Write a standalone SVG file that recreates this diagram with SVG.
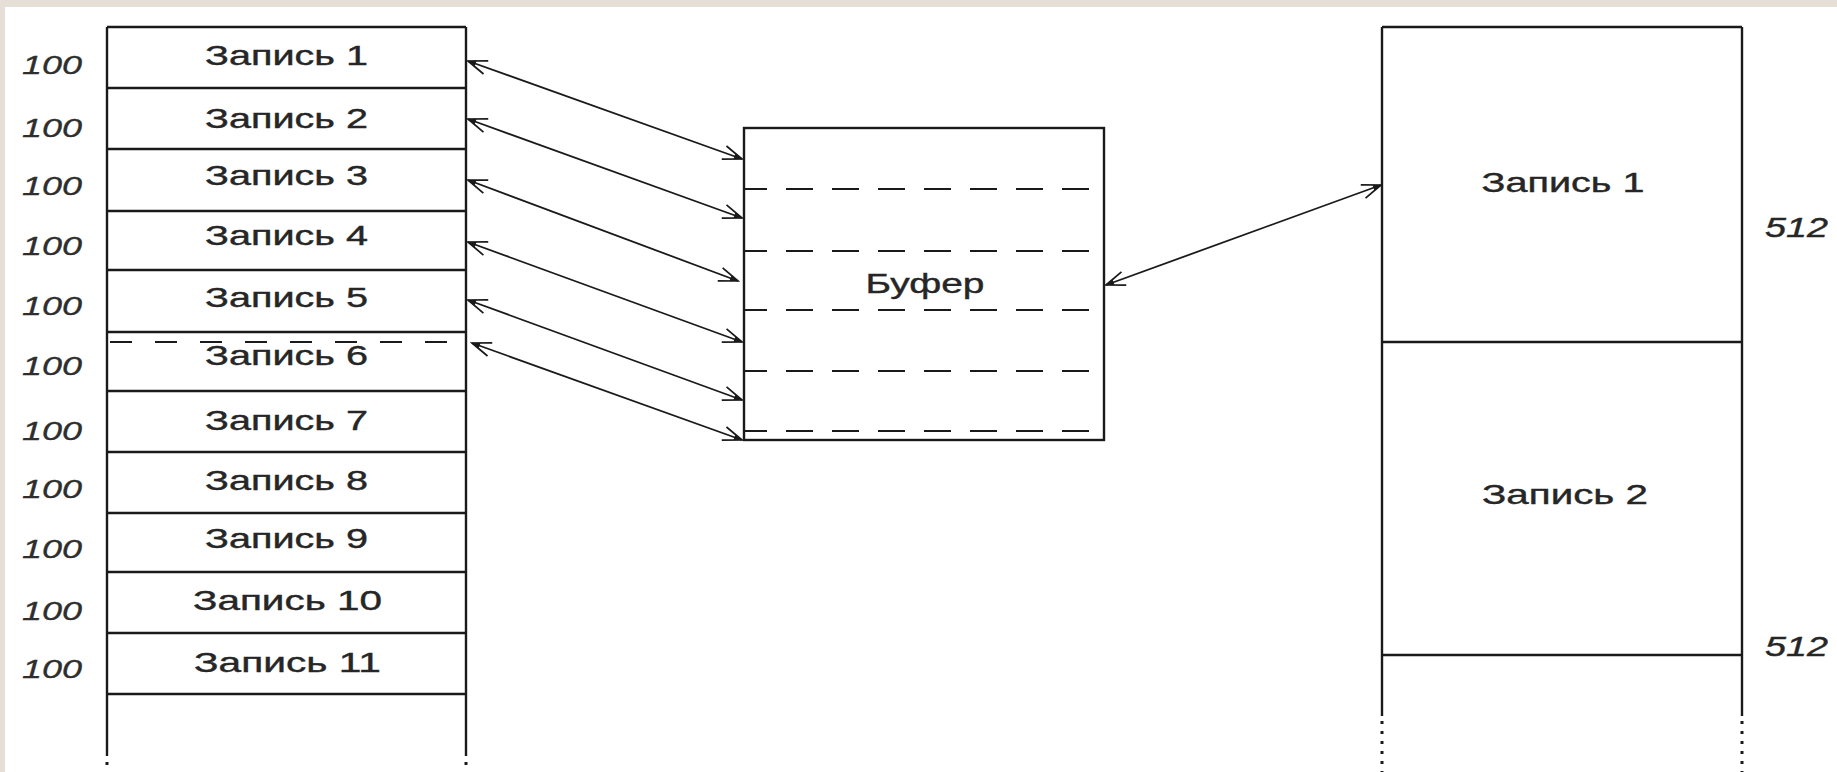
<svg xmlns="http://www.w3.org/2000/svg" width="1837" height="772" viewBox="0 0 1837 772">
  <style>
    .box { fill: none; stroke: #1a1a1a; stroke-width: 2.4; }
    .ln { stroke: #1a1a1a; stroke-width: 2.4; fill: none; }
    .dash { stroke: #1a1a1a; stroke-width: 2.2; fill: none; }
    .dot { stroke: #1a1a1a; stroke-width: 3; fill: none; stroke-dasharray: 3 7; }
    .arr { stroke: #1a1a1a; stroke-width: 1.8; fill: none; marker-start: url(#ah); marker-end: url(#ah); }
    .t { font-family: "Liberation Sans", Arial, sans-serif; font-size: 28px; fill: #262626; stroke: #262626; stroke-width: 0.4; text-anchor: middle; }
    .n { font-family: "Liberation Sans", Arial, sans-serif; font-size: 25px; font-style: italic; fill: #2e2e2e; stroke: #2e2e2e; stroke-width: 0.3; }
    .m { font-family: "Liberation Sans", Arial, sans-serif; font-size: 28px; font-style: italic; fill: #262626; stroke: #262626; stroke-width: 0.4; }
  </style>
  <defs>
    <marker id="ah" viewBox="-22 -10 24 20" refX="0" refY="0" markerWidth="24" markerHeight="20" markerUnits="userSpaceOnUse" orient="auto-start-reverse">
      <path d="M-19,-7 L0,0 L-19,7" fill="none" stroke="#1a1a1a" stroke-width="1.7"/>
      <path d="M-8,-3 L0,0 L-8,3 Z" fill="#1a1a1a"/>
    </marker>
  </defs>
  <rect x="0" y="0" width="1837" height="772" fill="#e6dfd8"/>
  <rect x="5" y="7" width="1832" height="765" fill="#ffffff"/>

  <g id="left-column">
    <path class="ln" d="M107,27 H466 M107,88 H466 M107,149 H466 M107,211 H466 M107,270 H466 M107,332 H466 M107,391 H466 M107,452 H466 M107,513 H466 M107,572 H466 M107,633 H466 M107,694 H466"/>
    <path class="ln" d="M107,27 V756 M466,27 V756"/>
    <path class="dot" d="M107,762 V772 M466,762 V772"/>
    <path class="dash" d="M110,342 H455" stroke-dasharray="22 23"/>
    <text class="t" x="286.5" y="65" textLength="163" lengthAdjust="spacingAndGlyphs">Запись 1</text>
    <text class="t" x="286.5" y="128" textLength="163" lengthAdjust="spacingAndGlyphs">Запись 2</text>
    <text class="t" x="286.5" y="185" textLength="163" lengthAdjust="spacingAndGlyphs">Запись 3</text>
    <text class="t" x="286.5" y="245" textLength="163" lengthAdjust="spacingAndGlyphs">Запись 4</text>
    <text class="t" x="286.5" y="307" textLength="163" lengthAdjust="spacingAndGlyphs">Запись 5</text>
    <text class="t" x="286.5" y="365" textLength="163" lengthAdjust="spacingAndGlyphs">Запись 6</text>
    <text class="t" x="286.5" y="430" textLength="163" lengthAdjust="spacingAndGlyphs">Запись 7</text>
    <text class="t" x="286.5" y="490" textLength="163" lengthAdjust="spacingAndGlyphs">Запись 8</text>
    <text class="t" x="286.5" y="548" textLength="163" lengthAdjust="spacingAndGlyphs">Запись 9</text>
    <text class="t" x="287.5" y="610" textLength="189" lengthAdjust="spacingAndGlyphs">Запись 10</text>
    <text class="t" x="287.5" y="672" textLength="187" lengthAdjust="spacingAndGlyphs">Запись 11</text>
  </g>

  <g id="sizes-left">
    <text class="n" x="22" y="74" textLength="60" lengthAdjust="spacingAndGlyphs">100</text>
    <text class="n" x="22" y="137" textLength="60" lengthAdjust="spacingAndGlyphs">100</text>
    <text class="n" x="22" y="195" textLength="60" lengthAdjust="spacingAndGlyphs">100</text>
    <text class="n" x="22" y="255" textLength="60" lengthAdjust="spacingAndGlyphs">100</text>
    <text class="n" x="22" y="315" textLength="60" lengthAdjust="spacingAndGlyphs">100</text>
    <text class="n" x="22" y="375" textLength="60" lengthAdjust="spacingAndGlyphs">100</text>
    <text class="n" x="22" y="440" textLength="60" lengthAdjust="spacingAndGlyphs">100</text>
    <text class="n" x="22" y="498" textLength="60" lengthAdjust="spacingAndGlyphs">100</text>
    <text class="n" x="22" y="558" textLength="60" lengthAdjust="spacingAndGlyphs">100</text>
    <text class="n" x="22" y="620" textLength="60" lengthAdjust="spacingAndGlyphs">100</text>
    <text class="n" x="22" y="678" textLength="60" lengthAdjust="spacingAndGlyphs">100</text>
  </g>

  <g id="buffer">
    <rect class="box" x="744" y="128" width="360" height="312"/>
    <path class="dash" d="M744,189 H1090 M744,251 H1090 M744,310 H1090 M744,371 H1090 M744,431 H1090" stroke-dasharray="27 19" stroke-dashoffset="4"/>
    <text class="t" x="925" y="293" textLength="119" lengthAdjust="spacingAndGlyphs">Буфер</text>
  </g>

  <g id="right-column">
    <path class="ln" d="M1382,27 H1742 M1382,342 H1742 M1382,655 H1742"/>
    <path class="ln" d="M1382,27 V716 M1742,27 V716"/>
    <path class="dot" d="M1382,721 V772 M1742,721 V772"/>
    <text class="t" x="1563" y="192" textLength="163" lengthAdjust="spacingAndGlyphs">Запись 1</text>
    <text class="t" x="1565" y="504" textLength="166" lengthAdjust="spacingAndGlyphs">Запись 2</text>
  </g>

  <g id="sizes-right">
    <text class="m" x="1765" y="237" textLength="63" lengthAdjust="spacingAndGlyphs">512</text>
    <text class="m" x="1765" y="656" textLength="63" lengthAdjust="spacingAndGlyphs">512</text>
  </g>

  <g id="connectors">
    <line class="arr" x1="468" y1="61" x2="742" y2="159"/>
    <line class="arr" x1="468" y1="119" x2="742" y2="218"/>
    <line class="arr" x1="468" y1="180" x2="738" y2="281"/>
    <line class="arr" x1="468" y1="242" x2="742" y2="342"/>
    <line class="arr" x1="468" y1="300" x2="742" y2="400"/>
    <line class="arr" x1="472" y1="343" x2="742" y2="440"/>
    <line class="arr" x1="1106" y1="285" x2="1381" y2="185"/>
  </g>
</svg>
